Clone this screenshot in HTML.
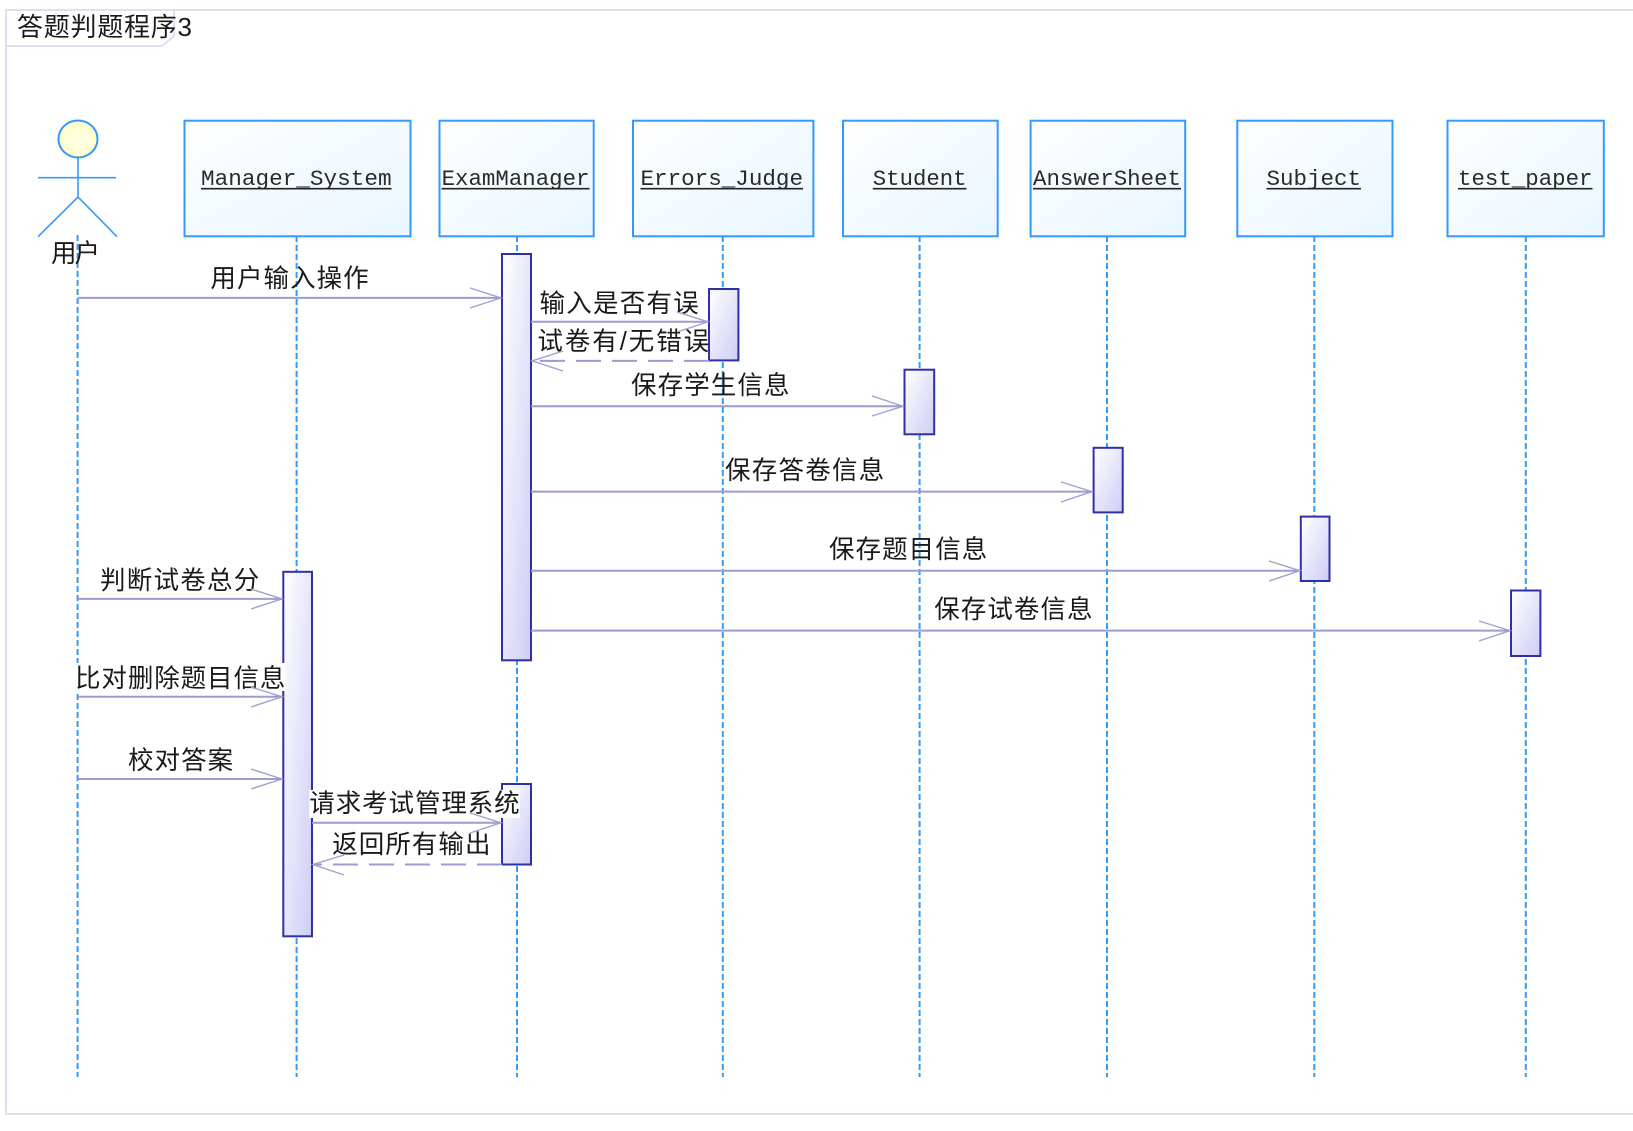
<!DOCTYPE html>
<html lang="zh"><head><meta charset="utf-8"><title>答题判题程序3</title>
<style>
html,body{margin:0;padding:0;background:#fff;width:1633px;height:1131px;overflow:hidden}
svg{display:block}
.m{font-family:"Liberation Sans","Noto Sans CJK SC",sans-serif;font-size:25.5px;fill:#1a1a1a}
.c{font-family:"Liberation Mono",monospace;font-size:22.5px;fill:#2a2a2a}
.ll{stroke:#3399ff;stroke-width:2;stroke-dasharray:6 3;fill:none}
.b{stroke:#3399ff;stroke-width:2;fill:url(#gb)}
.a{stroke:#2f2fa8;stroke-width:2;fill:url(#ga)}
.l{stroke:#9c9cd0;stroke-width:2;fill:none}
.h{stroke:#a0a0d4;stroke-width:1.4;fill:none}
.d{stroke:#9c9cd0;stroke-width:2;fill:none;stroke-dasharray:25 11}
.u{stroke:#222;stroke-width:1.6}
.w{fill:#fff}
</style></head><body>
<svg width="1633" height="1131" viewBox="0 0 1633 1131" xmlns="http://www.w3.org/2000/svg">
<defs>
<linearGradient id="gb" x1="0" y1="0" x2="1" y2="1"><stop offset="0" stop-color="#fff"/><stop offset="1" stop-color="#e9f6ff"/></linearGradient>
<linearGradient id="ga" x1="0" y1="0" x2="1" y2="1" gradientUnits="objectBoundingBox"><stop offset="0" stop-color="#fff"/><stop offset="1" stop-color="#cdcdf6"/></linearGradient>
<radialGradient id="gh" cx=".5" cy=".5" r=".6"><stop offset="0" stop-color="#ffffe8"/><stop offset="1" stop-color="#ffffc4"/></radialGradient>
</defs>
<path d="M1633 10H6V1114H1633" fill="none" stroke="#dfdff0" stroke-width="2"/>
<path d="M6 46H162L174 36V10" fill="none" stroke="#dfdff0" stroke-width="2"/>

<line class="ll" x1="77.6" y1="235" x2="77.6" y2="1077"/>
<line class="ll" x1="296.6" y1="236" x2="296.6" y2="1077"/>
<line class="ll" x1="517" y1="236" x2="517" y2="1077"/>
<line class="ll" x1="722.8" y1="236" x2="722.8" y2="1077"/>
<line class="ll" x1="919.6" y1="236" x2="919.6" y2="1077"/>
<line class="ll" x1="1107" y1="236" x2="1107" y2="1077"/>
<line class="ll" x1="1314.3" y1="236" x2="1314.3" y2="1077"/>
<line class="ll" x1="1525.8" y1="236" x2="1525.8" y2="1077"/>

<ellipse cx="78" cy="139" rx="19.5" ry="18.500" fill="url(#gh)" stroke="#3399ff" stroke-width="2"/>
<path d="M78 157.500V197M38 177.700H116M38 236.700L78 197L117 236.700" fill="none" stroke="#3399ff" stroke-width="1.6"/>

<rect class="b" x="184.500" y="120.700" width="226" height="115.600"/>
<rect class="b" x="439.500" y="120.700" width="154.200" height="115.600"/>
<rect class="b" x="633" y="120.700" width="180.400" height="115.600"/>
<rect class="b" x="843" y="120.700" width="154.700" height="115.600"/>
<rect class="b" x="1030.600" y="120.700" width="154.600" height="115.600"/>
<rect class="b" x="1237.300" y="120.700" width="155.200" height="115.600"/>
<rect class="b" x="1447.500" y="120.700" width="156.300" height="115.600"/>

<text class="c" x="201" y="185" textLength="190.600" lengthAdjust="spacingAndGlyphs">Manager_System</text><line class="u" x1="201" y1="188.700" x2="391.600" y2="188.700"/>
<text class="c" x="441.600" y="185" textLength="147.900" lengthAdjust="spacingAndGlyphs">ExamManager</text><line class="u" x1="441.600" y1="188.700" x2="589.500" y2="188.700"/>
<text class="c" x="640.500" y="185" textLength="162.500" lengthAdjust="spacingAndGlyphs">Errors_Judge</text><line class="u" x1="640.500" y1="188.700" x2="803" y2="188.700"/>
<text class="c" x="872.800" y="185" textLength="93.700" lengthAdjust="spacingAndGlyphs">Student</text><line class="u" x1="872.800" y1="188.700" x2="966.500" y2="188.700"/>
<text class="c" x="1033" y="185" textLength="148" lengthAdjust="spacingAndGlyphs">AnswerSheet</text><line class="u" x1="1033" y1="188.700" x2="1181" y2="188.700"/>
<text class="c" x="1266.500" y="185" textLength="94.500" lengthAdjust="spacingAndGlyphs">Subject</text><line class="u" x1="1266.500" y1="188.700" x2="1361" y2="188.700"/>
<text class="c" x="1458" y="185" textLength="134.500" lengthAdjust="spacingAndGlyphs">test_paper</text><line class="u" x1="1458" y1="188.700" x2="1592.500" y2="188.700"/>

<rect class="a" x="502" y="254" width="29" height="406.300"/>
<rect class="a" x="709" y="289" width="29.400" height="71.400"/>
<rect class="a" x="904.500" y="369.700" width="29.700" height="64.600"/>
<rect class="a" x="1093.600" y="447.800" width="29.100" height="64.600"/>
<rect class="a" x="1300.800" y="516.600" width="28.700" height="64.400"/>
<rect class="a" x="1511" y="590.500" width="29.400" height="65.500"/>
<rect class="a" x="283.300" y="571.800" width="28.700" height="364.500"/>
<rect class="a" x="502" y="784" width="29" height="80.500"/>

<text class="m" x="17" y="36" textLength="175" style="font-size:26px">答题判题程序3</text>
<text class="m" x="51" y="262" textLength="49">用户</text>
<text class="m" x="210.400" y="287" textLength="158.300">用户输入操作</text>
<text class="m" x="539.500" y="312" textLength="159.300">输入是否有误</text>
<text class="m" x="537.400" y="350" textLength="171.800">试卷有/无错误</text>
<text class="m" x="631" y="394" textLength="158.500">保存学生信息</text>
<text class="m" x="725" y="479" textLength="159.300">保存答卷信息</text>
<text class="m" x="829" y="558" textLength="158.300">保存题目信息</text>
<text class="m" x="934.200" y="618" textLength="158.300">保存试卷信息</text>
<text class="m" x="100" y="589" textLength="159.300">判断试卷总分</text>
<rect class="w" x="75" y="663" width="210.400" height="28"/>
<text class="m" x="75" y="687" textLength="210.400">比对删除题目信息</text>
<text class="m" x="128" y="769" textLength="105.200">校对答案</text>
<rect class="w" x="309.300" y="790" width="210.400" height="28"/>
<text class="m" x="309.300" y="812" textLength="210.400">请求考试管理系统</text>
<text class="m" x="332.200" y="853" textLength="158.300">返回所有输出</text>

<path class="l" d="M78 297.900H501"/><path class="h" d="M470 288L501 297.900L470 308"/>
<path class="l" d="M531 321.800H708"/><path class="h" d="M677 312L708 321.800L677 332"/>
<path class="d" d="M709 360.900H532"/><path class="h" d="M563 351L532 360.900L563 371"/>
<path class="l" d="M531 406.200H903"/><path class="h" d="M872 396L903 406.200L872 416"/>
<path class="l" d="M531 491.600H1092"/><path class="h" d="M1061 482L1092 491.600L1061 502"/>
<path class="l" d="M531 570.700H1300"/><path class="h" d="M1269 561L1300 570.700L1269 581"/>
<path class="l" d="M531 630.600H1510"/><path class="h" d="M1479 621L1510 630.600L1479 641"/>
<path class="l" d="M78 598.900H282"/><path class="h" d="M251 589L282 598.900L251 609"/>
<path class="l" d="M78 696.800H282"/><path class="h" d="M251 687L282 696.800L251 707"/>
<path class="l" d="M78 779H282"/><path class="h" d="M251 769L282 779L251 789"/>
<path class="l" d="M312 822.800H501"/><path class="h" d="M470 813L501 822.800L470 833"/>
<path class="d" d="M502 864.500H313"/><path class="h" d="M344 855L313 864.500L344 875"/>
</svg>
</body></html>
